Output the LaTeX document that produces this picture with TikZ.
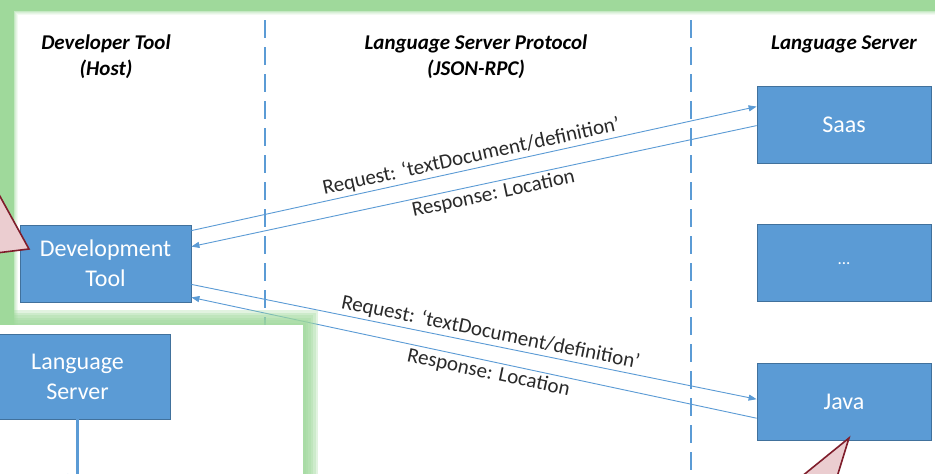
\documentclass[tikz,border=0pt]{standalone}
\usepackage{fontspec}
\setmainfont{Carlito}
\usepackage{tikz}
\usetikzlibrary{arrows,arrows.meta,positioning}

\definecolor{lspblue}{HTML}{5B9BD5}
\definecolor{lspedge}{HTML}{41719C}
\definecolor{glowgreen}{HTML}{9FD99B}
\definecolor{calloutfill}{HTML}{EBCDD0}
\definecolor{calloutline}{HTML}{7F1D2B}
\definecolor{labelgray}{HTML}{2A2A2A}

\begin{document}
\begin{tikzpicture}[x=1pt,y=-1pt,>={Triangle[length=8pt,width=6pt]},
		server node/.style={rectangle,fill=lspblue,draw=lspedge,line width=0.8pt,
			text=white,font=\fontsize{24}{30}\selectfont,align=center,
			minimum width=174pt,minimum height=77pt,inner sep=0pt},
		head node/.style={font=\fontsize{21}{26}\selectfont\bfseries\itshape,align=center},
		lane/.style={lspblue,line width=2pt,dash pattern=on 18pt off 9pt},
		msg/.style={->,lspblue,line width=0.9pt},
		msg text/.style={font=\fontsize{21}{24}\selectfont,text=labelgray,sloped,inner sep=2.5pt},
		callout/.style={fill=calloutfill,draw=calloutline,line width=1.6pt,line join=miter}]
	
	\useasboundingbox (0,0) rectangle (935,474);
	
	% frame
	\fill[glowgreen] (0,0) rectangle (935,474);
	\fill[white] (14,11) rectangle (960,500);
	\foreach \i/\op in {0/0.6,1/0.4,2/0.25,3/0.12}
		\draw[glowgreen,opacity=\op,line width=1pt] (14.5+\i,11.5+\i) rectangle (980,520);
	
	% lanes
	\draw[lane] (265,20) -- (265,480);
	\draw[lane] (691,20) -- (691,480);
	
	\node[head node] (host) at (106,57) {Developer Tool\\(Host)};
	\node[head node] (lsp) at (476,57) {Language Server Protocol\\(JSON-RPC)};
	\node[head node] (srv) at (844,44) {Language Server};
	
	\node[server node,minimum width=171pt] (dev) at (105.5,263.5) {Development\\Tool};
	\node[server node] (saas) at (844,124.5) {Saas};
	\node[server node,font=\fontsize{17}{20}\selectfont] (more) [below=61pt of saas] {...};
	\node[server node] (java) [below=61pt of more] {Java};
	
	\path[msg]
	([yshift=-6pt]dev.north east) edge node[msg text,above,pos=0.5] {Request: ‘textDocument/definition’} ([yshift=-21pt]saas.north west)
	([yshift=-40pt]saas.north west) edge node[msg text,below,pos=0.47] {Response: Location} ([yshift=-22pt]dev.north east)
	([yshift=18pt]dev.south east) edge node[msg text,above,pos=0.525] {Request: ‘textDocument/definition’} ([yshift=-36pt]java.north west)
	([yshift=-55pt]java.north west) edge node[msg text,below,pos=0.47] {Response: Location} ([yshift=5pt]dev.south east);
	
	% callouts
	\filldraw[callout] (-20,160) -- (29,249) -- (-20,255) -- cycle;
	\filldraw[callout] (785,490) -- (849,438) -- (833,490) -- cycle;
	
	% second window
	\foreach \k in {1,...,6}
		\fill[glowgreen,opacity=0.3] (-40,325-2.5*\k) rectangle (303+2.5*\k,520);
	\fill[white] (-40,325) rectangle (303,520);
	\node[server node,minimum width=185pt,minimum height=85pt] (lsbox) at (77.5,376.5) {Language\\Server};
	\coordinate (lsend) at (77.5,490);
	\coordinate (lsin) at (0,477);
	\draw[lspblue,line width=3pt] (lsbox.south) -- (lsend);
	\draw[lspblue,line width=1.5pt,->] (lsin) -- ([xshift=-2pt]lsend |- lsin);
\end{tikzpicture}
\end{document}
